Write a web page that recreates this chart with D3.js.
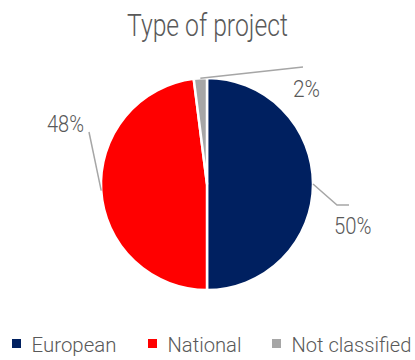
<!DOCTYPE html>
<html>
<head>
<meta charset="utf-8">
<script src="https://cdn.jsdelivr.net/npm/d3@7"></script>
<style>
  html, body { margin: 0; padding: 0; background: #ffffff; }
  svg { display: block; }
  text { font-family: Roboto, "Liberation Sans", sans-serif; font-weight: 300; fill: #595959; }
</style>
</head>
<body>
<svg id="chart" width="415" height="360"></svg>
<script>
// Project types and their shares (percent)
const categories = ["European", "National", "Not classified"];
const shares = [50, 48, 2];
const colors = ["#002060", "#FF0000", "#A6A6A6"];
const title = "Type of project";

const svg = d3.select("#chart");
const cx = 207, cy = 184, radius = 106;

// Narrow typeface look: place text at (x, y) and squeeze it horizontally to a set width
function narrowText(parent, x, y, size, str, width) {
  const t = parent.append("text")
    .attr("x", 0).attr("y", 0)
    .style("font-size", size + "px")
    .text(str);
  const natural = t.node().getComputedTextLength();
  t.attr("transform", `translate(${x},${y}) scale(${width / natural},1)`);
  return t;
}

narrowText(svg, 127, 36, 31, title, 161);

const data = categories.map((c, i) => ({ name: c, value: shares[i], color: colors[i] }));

const pie = d3.pie().value(d => d.value).sort(null);
const arcs = pie(data);
const arc = d3.arc().innerRadius(0).outerRadius(radius);
const edge = d3.arc().innerRadius(radius).outerRadius(radius);

const g = svg.append("g").attr("transform", `translate(${cx},${cy})`);

g.selectAll("path.slice")
  .data(arcs)
  .join("path")
  .attr("class", "slice")
  .attr("d", arc)
  .attr("fill", d => d.data.color)
  .attr("stroke", "#ffffff")
  .attr("stroke-width", 2.5)
  .attr("stroke-linejoin", "round");

// Leader lines: outer edge of slice -> elbow -> end; label start point (offsets from centre)
const callouts = [
  { elbow: [130, 21], end: [142, 21], label: [127, 50], width: 37.5 },
  { elbow: [-118, -52], end: [-118, -52], label: [-160, -52], width: 37 },
  { elbow: [96, -117], end: [96, -117], label: [86, -87], width: 27 }
];

const lines = g.append("g");
arcs.forEach((a, i) => {
  const p0 = edge.centroid(a);
  const c = callouts[i];
  lines.append("polyline")
    .attr("points", [p0, c.elbow, c.end].map(p => p.join(",")).join(" "))
    .attr("fill", "none")
    .attr("stroke", "#A6A6A6")
    .attr("stroke-width", 1.5);
  narrowText(g, c.label[0], c.label[1], 23, d3.format(".0f")(a.data.value) + "%", c.width);
});

// Legend
const legendX = [12, 148, 272];
const legendW = [85, 74, 120];
const legend = svg.append("g");
data.forEach((d, i) => {
  legend.append("rect")
    .attr("x", legendX[i]).attr("y", 339)
    .attr("width", 9).attr("height", 9)
    .attr("fill", d.color);
  narrowText(legend, legendX[i] + 19.5, 352, 21, d.name, legendW[i]);
});
</script>
</body>
</html>
